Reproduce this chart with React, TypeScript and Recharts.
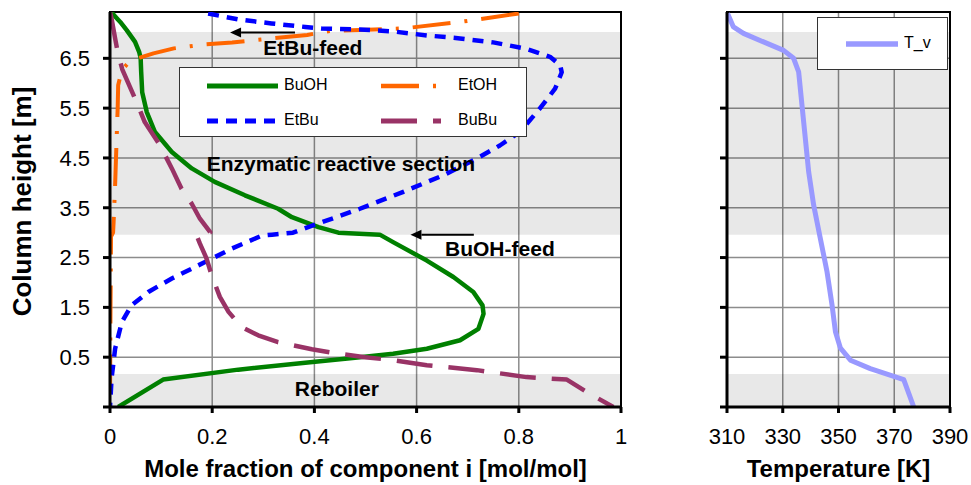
import {
  LineChart,
  Line,
  XAxis,
  YAxis,
  CartesianGrid,
  ReferenceArea,
  ReferenceLine,
  ReferenceDot,
  Legend,
  Label,
} from 'recharts'

const FONT = '"Liberation Sans", Arial, Helvetica, sans-serif'

// axes
const heightDomain = [-0.5, 7.43]
const heightTicks = [-0.5, 0.5, 1.5, 2.5, 3.5, 4.5, 5.5, 6.5]
const fracTicks = [0, 0.2, 0.4, 0.6, 0.8, 1]
const tempTicks = [310, 330, 350, 370, 390]

// shaded column sections [m]
const sections = [
  { from: 2.96, to: 7.03 }, // enzymatic reactive section
  { from: -0.5, to: 0.16 }, // reboiler
]

// liquid mole fractions along the column: [x, height]
const buoh: [number, number][] = [
  [0.003, 7.42], [0.02, 7.23], [0.033, 7.06], [0.049, 6.83], [0.057, 6.63], [0.06, 6.5],
  [0.061, 6.23], [0.063, 5.82], [0.072, 5.42], [0.088, 5.02], [0.121, 4.62], [0.16, 4.29],
  [0.205, 4.02], [0.264, 3.75], [0.329, 3.48], [0.356, 3.31], [0.408, 3.11], [0.447, 3.0],
  [0.528, 2.96], [0.554, 2.81], [0.62, 2.44], [0.672, 2.11], [0.711, 1.81], [0.729, 1.54],
  [0.731, 1.37], [0.721, 1.07], [0.685, 0.84], [0.62, 0.67], [0.554, 0.57], [0.489, 0.5],
  [0.382, 0.39], [0.251, 0.25], [0.104, 0.05], [0.016, -0.5],
]

const etoh: [number, number][] = [
  [0.8, 7.4], [0.685, 7.23], [0.574, 7.1], [0.489, 7.07], [0.43, 7.05], [0.386, 6.97],
  [0.239, 6.82], [0.186, 6.78], [0.125, 6.7], [0.085, 6.6], [0.055, 6.5], [0.036, 6.41],
  [0.023, 6.26], [0.016, 5.96], [0.015, 5.49], [0.013, 4.89], [0.01, 3.95], [0.007, 3.2],
  [0.006, 3.0], [0.002, 2.92], [0.001, 1.5], [0.0, -0.5],
]

const etbu: [number, number][] = [
  [0.192, 7.4], [0.251, 7.28], [0.316, 7.2], [0.382, 7.13], [0.414, 7.1], [0.489, 7.08],
  [0.554, 7.04], [0.62, 6.96], [0.685, 6.9], [0.75, 6.82], [0.815, 6.69], [0.861, 6.53],
  [0.881, 6.36], [0.884, 6.22], [0.871, 5.89], [0.841, 5.49], [0.802, 5.02], [0.763, 4.75],
  [0.718, 4.49], [0.652, 4.15], [0.574, 3.82], [0.489, 3.48], [0.401, 3.16], [0.358, 3.0],
  [0.317, 2.96], [0.297, 2.94], [0.238, 2.68], [0.186, 2.41], [0.121, 2.08], [0.075, 1.81],
  [0.042, 1.54], [0.023, 1.2], [0.01, 0.67], [0.003, 0.07], [0.0, -0.5],
]

const bubu: [number, number][] = [
  [0.0, 7.42], [0.003, 7.3], [0.01, 6.9], [0.015, 6.63], [0.024, 6.28], [0.052, 5.62],
  [0.068, 5.22], [0.098, 4.75], [0.121, 4.29], [0.14, 3.88], [0.16, 3.58], [0.176, 3.28],
  [0.196, 3.01], [0.17, 2.93], [0.176, 2.78], [0.189, 2.48], [0.199, 2.14], [0.215, 1.71],
  [0.232, 1.41], [0.258, 1.1], [0.29, 0.94], [0.329, 0.8], [0.395, 0.66], [0.447, 0.57],
  [0.499, 0.5], [0.554, 0.44], [0.62, 0.34], [0.718, 0.24], [0.815, 0.1], [0.894, 0.05],
  [0.933, -0.2], [0.985, -0.5],
]

// vapour temperature [K] along the column: [T, height]
const tv: [number, number][] = [
  [310.2, 7.4], [312.3, 7.13], [315.9, 7.0], [323.1, 6.83], [330.3, 6.66], [333.9, 6.5],
  [335.7, 6.23], [336.9, 5.56], [338.1, 4.89], [339.3, 4.22], [341.1, 3.55], [343.5, 2.88],
  [345.9, 2.21], [347.7, 1.54], [348.9, 1.01], [350.7, 0.68], [354.3, 0.44], [361.4, 0.27],
  [373.4, 0.05], [377.0, -0.5],
]

// annotations in data coordinates
const notes = [
  { text: 'EtBu-feed', x: 0.397, h: 6.57 },
  { text: 'Enzymatic reactive section', x: 0.452, h: 4.24 },
  { text: 'BuOH-feed', x: 0.763, h: 2.54 },
  { text: 'Reboiler', x: 0.444, h: -0.27 },
]
const arrows = [
  { x1: 0.362, x2: 0.235, h: 7.02 },
  { x1: 0.712, x2: 0.588, h: 2.96 },
]

const series = [
  { name: 'BuOH', data: buoh, color: '#008000', dash: undefined, width: 4.5 },
  { name: 'EtOH', data: etoh, color: '#ff6600', dash: '38 14 3 14', width: 4 },
  { name: 'EtBu', data: etbu, color: '#0000ff', dash: '11 8', width: 4.5 },
  { name: 'BuBu', data: bubu, color: '#993366', dash: '36 16', width: 4.5 },
]

const toPoints = (arr: [number, number][]) => arr.map(([x, h]) => ({ x, h }))

const GRID = '#8c8c8c'

const tickStyle = { fontSize: 22, fill: '#000', fontFamily: FONT }

function Arrow(p: any) {
  const { x1, y1, x2, y2 } = p
  const a = Math.atan2(y2 - y1, x2 - x1)
  const len = 11
  const w = 5
  const bx = x2 - len * Math.cos(a)
  const by = y2 - len * Math.sin(a)
  const pts = `${x2},${y2} ${bx + w * Math.sin(a)},${by - w * Math.cos(a)} ${bx - w * Math.sin(a)},${by + w * Math.cos(a)}`
  return (
    <g>
      <line x1={x1} y1={y1} x2={bx} y2={by} stroke="#000" strokeWidth={2} />
      <polygon points={pts} fill="#000" />
    </g>
  )
}

function noteShape(text: string) {
  return (p: any) => (
    <text
      x={p.cx}
      y={p.cy}
      textAnchor="middle"
      fontFamily={FONT}
      fontWeight="bold"
      fontSize={21}
      fill="#000"
    >
      {text}
    </text>
  )
}

function sample(color: string, dash: string | undefined, width: number, len: number) {
  return (
    <svg width={len} height={12} style={{ display: 'block' }}>
      <line x1={0} y1={6} x2={len} y2={6} stroke={color} strokeWidth={width} strokeDasharray={dash} />
    </svg>
  )
}

function CompositionLegend() {
  const cols = [
    { line: 27, text: 104 },
    { line: 201, text: 278 },
  ]
  const rows = [17.5, 53]
  return (
    <div
      style={{
        position: 'relative',
        width: 348,
        height: 70,
        boxSizing: 'border-box',
        border: '1px solid #333',
        background: '#fff',
        fontFamily: FONT,
        fontSize: 16,
      }}
    >
      {series.map((s, i) => {
        const c = cols[i % 2]
        const r = rows[Math.floor(i / 2)]
        const len = i % 2 === 0 ? 71 : 60
        return (
          <div key={s.name}>
            <div style={{ position: 'absolute', left: c.line, top: r - 6 }}>
              {sample(s.color, s.dash, s.width + 0.5, len)}
            </div>
            <div style={{ position: 'absolute', left: c.text, top: r - 10, lineHeight: '18px' }}>{s.name}</div>
          </div>
        )
      })}
    </div>
  )
}

function TempLegend() {
  return (
    <div
      style={{
        position: 'relative',
        width: 131,
        height: 53,
        boxSizing: 'border-box',
        border: '1px solid #333',
        background: '#fff',
        fontFamily: FONT,
        fontSize: 16,
      }}
    >
      <div style={{ position: 'absolute', left: 28, top: 20 }}>{sample('#9999ff', undefined, 5.5, 52)}</div>
      <div style={{ position: 'absolute', left: 86, top: 16, lineHeight: '18px' }}>T_v</div>
    </div>
  )
}

function yTitle(text: string) {
  return (p: any) => {
    const vb = p.viewBox
    const cx = vb.x + 22
    const cy = vb.y + vb.height / 2 - 8
    return (
      <text
        x={cx}
        y={cy}
        transform={`rotate(-90 ${cx} ${cy})`}
        textAnchor="middle"
        dominantBaseline="central"
        fontFamily={FONT}
        fontWeight="bold"
        fontSize={26}
        fill="#000"
      >
        {text}
      </text>
    )
  }
}

function xTitle(text: string) {
  return (p: any) => {
    const vb = p.viewBox
    return (
      <text
        x={vb.x + vb.width / 2}
        y={vb.y + vb.height - 8}
        textAnchor="middle"
        fontFamily={FONT}
        fontWeight="bold"
        fontSize={24}
        fill="#000"
      >
        {text}
      </text>
    )
  }
}

// translucent bands so the grid stays visible through the shading
const bandProps = { fill: '#000', fillOpacity: 0.09, stroke: 'none' }

export default function App() {
  return (
    <div style={{ position: 'absolute', left: 0, top: 0, width: 971, height: 485, background: '#fff' }}>
      <div style={{ position: 'absolute', left: 0, top: 0 }}>
        <LineChart width={640} height={485} margin={{ top: 12, right: 19, bottom: 0, left: 0 }}>
          <CartesianGrid stroke={GRID} strokeWidth={1.5} />
          {sections.map((s, i) => (
            <ReferenceArea key={i} x1={0} x2={1} y1={s.from} y2={s.to} {...bandProps} />
          ))}
          <XAxis
            type="number"
            dataKey="x"
            domain={[0, 1]}
            ticks={fracTicks}
            allowDataOverflow
            height={78}
            tick={tickStyle}
            tickSize={6}
            tickMargin={15}
            axisLine={{ stroke: '#000', strokeWidth: 3 }}
            tickLine={{ stroke: '#000', strokeWidth: 3 }}
          >
            <Label content={xTitle('Mole fraction of component i [mol/mol]')} />
          </XAxis>
          <YAxis
            type="number"
            domain={heightDomain}
            ticks={heightTicks}
            allowDataOverflow
            width={110}
            tick={tickStyle}
            tickSize={7}
            tickMargin={13}
            tickFormatter={(v: number) => (v < 0 ? '' : v.toFixed(1))}
            axisLine={{ stroke: '#000', strokeWidth: 3 }}
            tickLine={{ stroke: '#000', strokeWidth: 3 }}
          >
            <Label content={yTitle('Column height [m]')} />
          </YAxis>
          {series.map((s) => (
            <Line
              key={s.name}
              name={s.name}
              data={toPoints(s.data)}
              dataKey="h"
              type="linear"
              stroke={s.color}
              strokeWidth={s.width}
              strokeDasharray={s.dash}
              strokeLinejoin="round"
              dot={false}
              activeDot={false}
              isAnimationActive={false}
            />
          ))}
          {arrows.map((a, i) => (
            <ReferenceLine
              key={i}
              segment={[{ x: a.x1, y: a.h }, { x: a.x2, y: a.h }]}
              shape={Arrow}
            />
          ))}
          {notes.map((n) => (
            <ReferenceDot key={n.text} x={n.x} y={n.h} r={0} shape={noteShape(n.text)} />
          ))}
          <ReferenceArea x1={0} x2={1} y1={heightDomain[0]} y2={heightDomain[1]} fill="none" stroke="#000" strokeWidth={2} />
          <Legend
            layout="horizontal"
            verticalAlign="middle"
            align="center"
            content={() => <CompositionLegend />}
            wrapperStyle={{ position: 'absolute', left: 179, top: 67, width: 348, height: 70 }}
          />
        </LineChart>
      </div>
      <div style={{ position: 'absolute', left: 640, top: 0 }}>
        <LineChart width={331} height={485} margin={{ top: 12, right: 21, bottom: 0, left: 0 }}>
          <CartesianGrid stroke={GRID} strokeWidth={1.5} />
          {sections.map((s, i) => (
            <ReferenceArea key={i} x1={310} x2={390} y1={s.from} y2={s.to} {...bandProps} />
          ))}
          <XAxis
            type="number"
            dataKey="x"
            domain={[310, 390]}
            ticks={tempTicks}
            allowDataOverflow
            height={78}
            tick={tickStyle}
            tickSize={6}
            tickMargin={15}
            axisLine={{ stroke: '#000', strokeWidth: 3 }}
            tickLine={{ stroke: '#000', strokeWidth: 3 }}
          >
            <Label content={xTitle('Temperature [K]')} />
          </XAxis>
          <YAxis
            type="number"
            domain={heightDomain}
            ticks={heightTicks}
            allowDataOverflow
            width={87}
            tick={tickStyle}
            tickSize={7}
            tickFormatter={() => ''}
            axisLine={{ stroke: '#000', strokeWidth: 3 }}
            tickLine={{ stroke: '#000', strokeWidth: 3 }}
          />
          <Line
            name="T_v"
            data={toPoints(tv)}
            dataKey="h"
            type="linear"
            stroke="#9999ff"
            strokeWidth={5}
            strokeLinejoin="round"
            dot={false}
            activeDot={false}
            isAnimationActive={false}
          />
          <ReferenceArea x1={310} x2={390} y1={heightDomain[0]} y2={heightDomain[1]} fill="none" stroke="#000" strokeWidth={2} />
          <Legend
            layout="horizontal"
            verticalAlign="middle"
            align="center"
            content={() => <TempLegend />}
            wrapperStyle={{ position: 'absolute', left: 177, top: 17, width: 131, height: 53 }}
          />
        </LineChart>
      </div>
    </div>
  )
}
